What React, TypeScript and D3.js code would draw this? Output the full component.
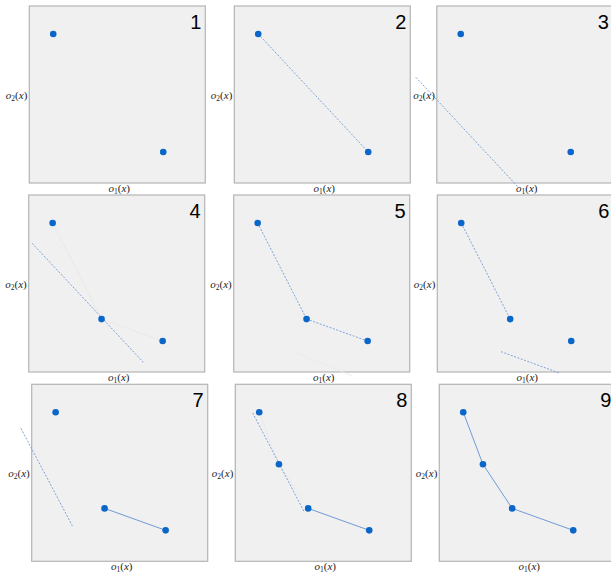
import React from "react";
import * as d3 from "d3";

// Data: objective values of the four solutions (o1, o2), in plot units
const pointNames = ["A", "B", "C", "D"];
const o1Values = [13.6, 24.8, 41.4, 76.1];
const o2Values = [84.2, 54.8, 29.9, 17.5];

// Which points are shown in each of the nine panels
const panelPoints = [
  ["A", "D"], ["A", "D"], ["A", "D"],
  ["A", "C", "D"], ["A", "C", "D"], ["A", "C", "D"],
  ["A", "C", "D"], ["A", "B", "C", "D"], ["A", "B", "C", "D"],
];
// Dashed connections between points
const panelDashedLinks = [
  [], [["A", "D"]], [],
  [], [["A", "C"], ["C", "D"]], [["A", "C"]],
  [], [], [],
];
// Solid connections between points
const panelSolidLinks = [
  [], [], [],
  [], [], [],
  [["C", "D"]], [["C", "D"]], [["A", "B"], ["B", "C"], ["C", "D"]],
];
// Faint connections between points
const panelFaintLinks = [
  [], [], [],
  [["A", "C"], ["C", "D"]], [], [],
  [], [["A", "B"], ["B", "C"]], [],
];
// Dashed search lines (o1 start, o2 start, o1 end, o2 end)
const panelSearchLines: number[][][] = [
  [], [], [[-11.9, 59.7, 46.0, -2.1]],
  [[2.0, 72.7, 65.1, 5.5]], [], [[36.2, 11.5, 69.7, -0.7]],
  [[-6.1, 75.1, 23.1, 20.0]], [[9.9, 83.8, 39.0, 28.2]], [],
];
const panelFaintSearch: number[][][] = [
  [], [], [],
  [], [[33.7, 11.5, 67.2, -2.2]], [],
  [], [], [],
];
const panelLabels = ["1", "2", "3", "4", "5", "6", "7", "8", "9"];

// Layout
const lefts = [29.3, 234.3, 436.8, 28.7, 233.7, 437.3, 31.7, 235.3, 439.3];
const tops = [6, 6, 6, 195, 195, 195, 384.3, 384.3, 384.3];
const PW = 176;
const PH = 177;

const dotColor = "#0a66c8";
const lineColor = "#6f9ad6";

function Panel({ i }: { i: number }) {
  const x = d3.scaleLinear().domain([0, 100]).range([lefts[i], lefts[i] + PW]);
  const y = d3.scaleLinear().domain([0, 100]).range([tops[i] + PH, tops[i]]);
  const idx = (n: string) => pointNames.indexOf(n);
  const line = d3
    .line<string>()
    .x((n) => x(o1Values[idx(n)]))
    .y((n) => y(o2Values[idx(n)]));
  const cx = lefts[i] + PW / 2;
  const cy = tops[i] + PH / 2;
  return (
    <g>
      <rect x={lefts[i]} y={tops[i]} width={PW} height={PH} fill="#f0f0f0" stroke="#b4b4b4" strokeWidth={1.2} />
      {panelFaintLinks[i].map((l, k) => (
        <path key={"f" + k} d={line(l) || ""} fill="none" stroke="#e7e7e7" strokeWidth={0.8} />
      ))}
      {panelFaintSearch[i].map((s, k) => (
        <line key={"fs" + k} x1={x(s[0])} y1={y(s[1])} x2={x(s[2])} y2={y(s[3])} stroke="#eaeaea" strokeWidth={0.8} />
      ))}
      {panelDashedLinks[i].map((l, k) => (
        <path key={"d" + k} d={line(l) || ""} fill="none" stroke={lineColor} strokeWidth={0.9} strokeDasharray="2,1.5" />
      ))}
      {panelSearchLines[i].map((s, k) => (
        <line key={"s" + k} x1={x(s[0])} y1={y(s[1])} x2={x(s[2])} y2={y(s[3])} stroke={lineColor} strokeWidth={0.9} strokeDasharray="2,1.5" />
      ))}
      {panelSolidLinks[i].map((l, k) => (
        <path key={"l" + k} d={line(l) || ""} fill="none" stroke={lineColor} strokeWidth={1} />
      ))}
      {panelPoints[i].map((n) => (
        <circle key={n} cx={x(o1Values[idx(n)])} cy={y(o2Values[idx(n)])} r={3.3} fill={dotColor} />
      ))}
      <text x={lefts[i] + PW - 4} y={tops[i] + 23} textAnchor="end" fontFamily="'Liberation Sans', Arial, sans-serif" fontSize={20} fill="#000">
        {panelLabels[i]}
      </text>
      <text x={lefts[i] - 2} y={cy + 4} textAnchor="end" fontFamily="'Liberation Serif', serif" fontSize={11} fill="#222">
        <tspan fontStyle="italic">o</tspan>
        <tspan fontSize={7.5} dy={2.5}>2</tspan>
        <tspan dy={-2.5}>(</tspan>
        <tspan fontStyle="italic">x</tspan>
        <tspan>)</tspan>
      </text>
      <text x={cx + 2} y={tops[i] + PH + 9} textAnchor="middle" fontFamily="'Liberation Serif', serif" fontSize={11} fill="#222">
        <tspan fontStyle="italic">o</tspan>
        <tspan fontSize={7.5} dy={2}>1</tspan>
        <tspan dy={-2}>(</tspan>
        <tspan fontStyle="italic">x</tspan>
        <tspan>)</tspan>
      </text>
    </g>
  );
}

export default function App() {
  return (
    <svg
      width={611}
      height={574}
      style={{ position: "absolute", left: 0, top: 0, display: "block", background: "#fff" }}
    >
      {panelLabels.map((_, i) => (
        <Panel key={i} i={i} />
      ))}
    </svg>
  );
}
